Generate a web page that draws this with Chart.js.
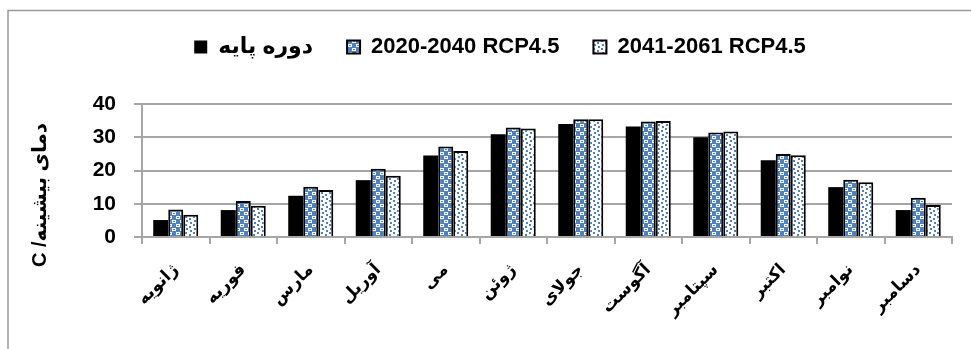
<!DOCTYPE html>
<html lang="fa">
<head>
<meta charset="utf-8">
<title>دمای بیشینه</title>
<script src="https://cdn.jsdelivr.net/npm/chart.js@4/dist/chart.umd.min.js"></script>
<style>
  html, body { margin: 0; padding: 0; background: #ffffff; }
  #wrap { position: relative; width: 971px; height: 349px; }
</style>
</head>
<body>
<div id="wrap"><canvas id="chart" width="971" height="349"></canvas></div>
<script>
// Monthly maximum temperature (°C): base period and two RCP4.5 horizons
const months = ['ژانویه', 'فوریه', 'مارس', 'آوریل', 'می', 'ژوئن', 'جولای', 'آگوست', 'سپتامبر', 'اکتبر', 'نوامبر', 'دسامبر'];
const seriesNames = ['دوره پایه', '2020-2040 RCP4.5', '2041-2061 RCP4.5'];
const basePeriod = [5.1, 8.1, 12.4, 17.1, 24.5, 30.9, 34.0, 33.2, 30.0, 23.1, 15.0, 8.1];
const rcp2020_2040 = [8.3, 10.8, 15.1, 20.5, 27.2, 32.9, 35.4, 34.7, 31.4, 25.0, 17.2, 11.8];
const rcp2041_2061 = [6.7, 9.4, 14.1, 18.4, 25.9, 32.6, 35.4, 34.9, 31.7, 24.6, 16.5, 9.6];
const yTicks = [0, 10, 20, 30, 40];
const yTitle = 'دمای بیشینه/ C';

const BLUE = '#4f81bd';
const GRID = '#a6a6a6';

// Small repeating fills for the two projection series
function makePattern(size, paint) {
  const c = document.createElement('canvas');
  c.width = size; c.height = size;
  const g = c.getContext('2d');
  paint(g);
  return g.createPattern(c, 'repeat');
}
const spherePattern = makePattern(8, g => {
  g.fillStyle = BLUE; g.fillRect(0, 0, 8, 8);
  g.fillStyle = '#ffffff';
  g.fillRect(0, 0, 4, 3);
  g.fillRect(4, 4, 4, 3);
  g.fillStyle = BLUE;
  g.fillRect(1, 1, 2, 1);
  g.fillRect(5, 5, 2, 1);
});
const confettiPattern = makePattern(8, g => {
  g.fillStyle = '#ffffff'; g.fillRect(0, 0, 8, 8);
  g.fillStyle = BLUE;
  g.fillRect(1, 0, 2, 2);
  g.fillRect(5, 2, 2, 2);
  g.fillRect(2, 4, 2, 2);
  g.fillRect(6, 6, 2, 2);
});

// Outer frame and rotated axis title
const framePlugin = {
  id: 'frame',
  beforeDraw(chart) {
    const ctx = chart.ctx;
    ctx.save();
    ctx.strokeStyle = '#9a9a9a';
    ctx.lineWidth = 1.5;
    ctx.strokeRect(8, 10.5, 1000, 400);
    ctx.restore();
  },
  afterDraw(chart) {
    const ctx = chart.ctx;
    ctx.save();
    ctx.translate(40, 195);
    ctx.rotate(-Math.PI / 2);
    ctx.direction = 'rtl';
    ctx.font = "bold 20px 'Liberation Sans', 'DejaVu Sans', sans-serif";
    ctx.fillStyle = '#000000';
    ctx.textAlign = 'center';
    ctx.textBaseline = 'middle';
    ctx.fillText(yTitle, 0, 0);
    ctx.restore();
  }
};

// Fixed legend band height
const legendBand = {
  id: 'legendBand',
  beforeInit(chart) {
    const legend = chart.legend;
    if (!legend) return;
    const fit = legend.fit.bind(legend);
    legend.fit = function () { fit(); this.height = 102; };
  }
};

new Chart(document.getElementById('chart'), {
  type: 'bar',
  data: {
    labels: months,
    datasets: [
      { label: seriesNames[0], data: basePeriod, backgroundColor: '#000000', borderColor: '#000000', borderWidth: 0 },
      { label: seriesNames[1], data: rcp2020_2040, backgroundColor: spherePattern, borderColor: '#000000', borderWidth: 2 },
      { label: seriesNames[2], data: rcp2041_2061, backgroundColor: confettiPattern, borderColor: '#000000', borderWidth: 2 }
    ]
  },
  options: {
    responsive: false,
    animation: false,
    layout: { padding: { left: 48, right: 19, top: 2, bottom: 0 } },
    datasets: { bar: { categoryPercentage: 0.667, barPercentage: 1.0 } },
    plugins: {
      legend: {
        display: true,
        position: 'top',
        labels: {
          boxWidth: 13,
          boxHeight: 13,
          padding: 34,
          color: '#000000',
          font: { family: "'Liberation Sans', 'DejaVu Sans', sans-serif", size: 22, weight: 'bold' }
        }
      },
      tooltip: { enabled: false }
    },
    scales: {
      x: {
        offset: true,
        afterFit(s) { s.height = 112; },
        grid: { display: true, drawOnChartArea: false, drawTicks: true, tickLength: 7, color: GRID, lineWidth: 2, offset: true },
        border: { display: true, color: GRID, width: 2 },
        ticks: {
          autoSkip: false,
          maxRotation: 45,
          minRotation: 45,
          padding: 16,
          color: '#000000',
          font: { family: "'DejaVu Sans', sans-serif", size: 17, weight: 'bold' }
        }
      },
      y: {
        min: 0,
        max: 40,
        afterFit(s) { s.width = 94; },
        afterBuildTicks(s) { s.ticks = yTicks.map(v => ({ value: v })); },
        grid: { color: GRID, lineWidth: 2, tickLength: 8, drawTicks: true },
        border: { display: true, color: GRID, width: 2 },
        ticks: {
          padding: 18,
          color: '#000000',
          font: { family: "'Liberation Sans', sans-serif", size: 21, weight: 'bold' }
        }
      }
    }
  },
  plugins: [legendBand, framePlugin]
});
</script>
</body>
</html>
